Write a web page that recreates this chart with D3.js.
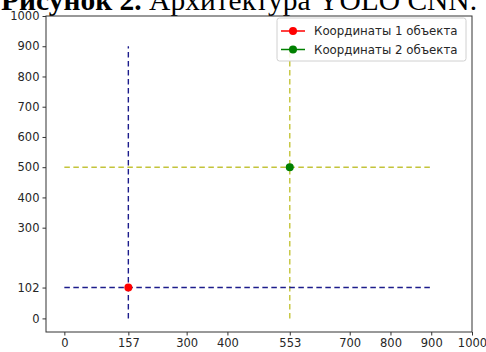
<!DOCTYPE html>
<html>
<head>
<meta charset="utf-8">
<script src="https://cdn.jsdelivr.net/npm/d3@7"></script>
<style>
	html, body { margin: 0; padding: 0; background: #fff; }
	svg { display: block; }
	.tick text { font-family: "DejaVu Sans", sans-serif; font-size: 11.5px; fill: #262626; }
	.tick line { stroke: #333; }
</style>
</head>
<body>
<svg></svg>
<script>
var width = 486,
	height = 352;

// data
var seriesNames = ["Координаты 1 объекта", "Координаты 2 объекта"];
var pointX = [157, 553];
var pointY = [102, 500];
var pointColors = ["#ff0000", "#008000"];
var guideColors = ["#1c1c8c", "#c4c43a"];
var guideEnd = 900;
var xTicks = [0, 157, 300, 400, 553, 700, 800, 900, 1000];
var yTicks = [0, 102, 300, 400, 500, 600, 700, 800, 900, 1000];

var margin = { left: 46, right: 14, top: 16, bottom: 20 };

var svg = d3.select("svg").attr("width", width).attr("height", height);

// title (cut off at the top in the source)
var title = svg
	.append("text")
	.attr("x", 1)
	.attr("y", 10)
	.style("font-family", "'Liberation Serif', 'Times New Roman', serif")
	.style("font-size", "29.5px")
	.style("fill", "#000");
title.append("tspan").style("font-weight", "bold").text("Рисунок 2.");
title.append("tspan").text(" Архитектура YOLO CNN.");

var x = d3
	.scaleLinear()
	.domain([-45, 1000])
	.range([margin.left, width - margin.right]);
var y = d3
	.scaleLinear()
	.domain([-45, 1000])
	.range([height - margin.bottom, margin.top]);

// axes
svg
	.append("g")
	.attr("transform", "translate(0," + (height - margin.bottom) + ")")
	.call(d3.axisBottom(x).tickValues(xTicks).tickFormat(d3.format("d")).tickSize(3.5).tickSizeOuter(0).tickPadding(3))
	.call((g) => g.select(".domain").remove());

svg
	.append("g")
	.attr("transform", "translate(" + margin.left + ",0)")
	.call(d3.axisLeft(y).tickValues(yTicks).tickFormat(d3.format("d")).tickSize(3.5).tickSizeOuter(0).tickPadding(3))
	.call((g) => g.select(".domain").remove());

var plot = svg.append("g");

// dashed guide lines, yellow first then blue
for (var i = pointX.length - 1; i >= 0; i--) {
	var segs = [
		[[pointX[i], 0], [pointX[i], guideEnd]],
		[[0, pointY[i]], [guideEnd, pointY[i]]],
	];
	plot
		.append("g")
		.selectAll("line")
		.data(segs)
		.enter()
		.append("line")
		.attr("x1", (d) => x(d[0][0]))
		.attr("y1", (d) => y(d[0][1]))
		.attr("x2", (d) => x(d[1][0]))
		.attr("y2", (d) => y(d[1][1]))
		.style("stroke", guideColors[i])
		.style("stroke-width", 1.4)
		.style("stroke-dasharray", "5.5,3.5");
}

// points
plot
	.append("g")
	.selectAll("circle")
	.data(pointX)
	.enter()
	.append("circle")
	.attr("cx", (d) => x(d))
	.attr("cy", (d, i) => y(pointY[i]))
	.attr("r", 4)
	.style("fill", (d, i) => pointColors[i]);

// frame
svg
	.append("rect")
	.attr("x", margin.left)
	.attr("y", margin.top)
	.attr("width", width - margin.left - margin.right)
	.attr("height", height - margin.top - margin.bottom)
	.style("fill", "none")
	.style("stroke", "#333")
	.style("stroke-width", 1);

// legend
var lg = svg.append("g").attr("transform", "translate(277,18)");
lg.append("rect")
	.attr("width", 189)
	.attr("height", 43)
	.attr("rx", 2.5)
	.style("fill", "#fff")
	.style("fill-opacity", 0.85)
	.style("stroke", "#d0d0d0")
	.style("stroke-width", 1);

var rows = lg
	.selectAll("g.row")
	.data(seriesNames)
	.enter()
	.append("g")
	.attr("class", "row")
	.attr("transform", (d, i) => "translate(0," + (13 + i * 18.5) + ")");
rows.append("line")
	.attr("x1", 4)
	.attr("x2", 28)
	.style("stroke", (d, i) => pointColors[i])
	.style("stroke-width", 1.5);
rows.append("circle")
	.attr("cx", 16)
	.attr("r", 4)
	.style("fill", (d, i) => pointColors[i]);
rows.append("text")
	.attr("x", 37)
	.attr("dy", "0.35em")
	.style("font-family", "'DejaVu Sans', sans-serif")
	.style("font-size", "11.8px")
	.style("fill", "#262626")
	.text((d) => d);
</script>
</body>
</html>
